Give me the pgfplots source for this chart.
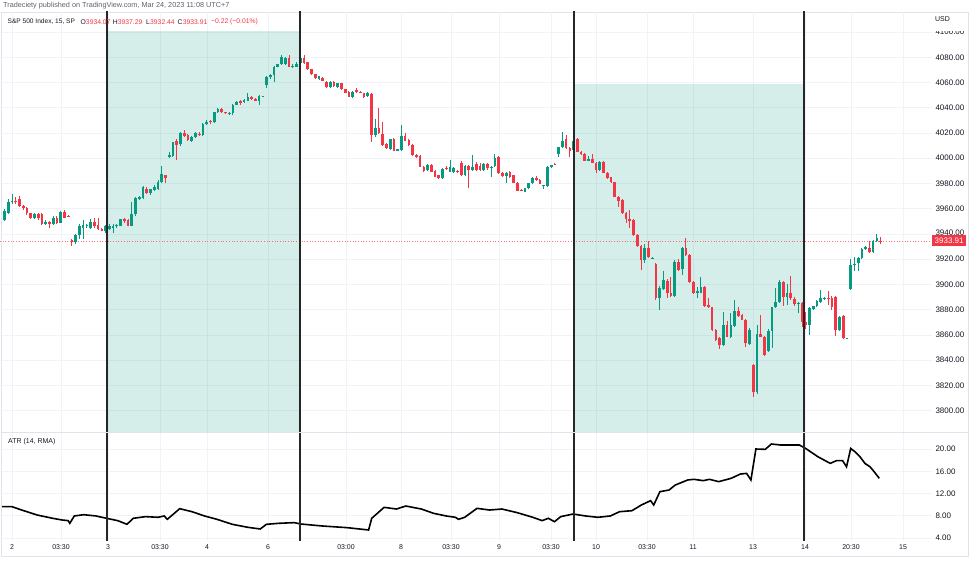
\documentclass[border=0pt]{standalone}
\usepackage{pgfplots}
\pgfplotsset{compat=1.18}
\usepackage{pgfplotstable}
\usepackage{fontspec}
\setmainfont{Liberation Sans}
\definecolor{upc}{HTML}{089981}
\definecolor{dnc}{HTML}{F23645}
\definecolor{gridc}{HTML}{F0F3FA}
\definecolor{framec}{HTML}{E0E3EB}
\definecolor{txt}{HTML}{131722}
\definecolor{hdr}{HTML}{5D606B}

\pgfplotstableread{
i o h l c
-2 3951 3960 3950 3958
-1 3957 3968 3956 3965
0 3965 3972 3964 3966.5
6 3953 3957 3952 3955.5
9 3948 3951 3947 3949.5
11 3948 3954 3947 3952.5
13 3949 3958 3948.5 3957.5
17 3933.5 3940 3932 3939
18 3939 3948 3936 3946
19 3945 3951 3936 3947
20 3946 3948 3945 3947.5
21 3944.5 3952 3944 3949.5
25 3942.5 3947 3941 3946
26 3944 3948 3943 3946.5
27 3945 3948 3941 3946
28 3946 3948 3945 3947.5
29 3946.5 3952 3946 3951.5
32 3946.5 3965 3946 3955.5
33 3955.5 3969 3954 3968.5
34 3968 3970 3967 3969
35 3968.5 3978 3968 3977
37 3972.5 3976 3971 3975.5
38 3975 3979 3974 3977.5
39 3976 3983 3975 3981.5
40 3981 3994 3980 3987.5
42 4001.2 4005 4000 4002.6
43 4001.8 4013 4001 4012.6
45 4011.3 4021 4010 4020.3
48 4014 4018 4013 4017
49 4016.6 4021 4016 4019.8
51 4018.5 4028 4018 4027
52 4027.2 4030 4026 4029
54 4028.5 4037 4028 4036.4
55 4036.4 4040 4036 4039.3
58 4035.3 4036.5 4034 4036
59 4035.6 4043 4034 4042.2
60 4042.2 4045.5 4042 4044.8
62 4044.4 4047 4044 4046.2
63 4045.6 4051.5 4045 4048.3
66 4045.6 4050 4042 4049.3
67 4049 4049.5 4048.5 4049.3
68 4058 4065 4055.4 4064.2
69 4064 4067 4063 4066
70 4066 4073 4060.7 4072.6
71 4072.6 4075 4072 4074.5
72 4074.5 4081.5 4074 4080.5
73 4075 4080.5 4074 4079.5
75 4072.6 4074.5 4071.5 4073.4
76 4072.5 4076 4072 4075
77 4075.2 4080 4074.5 4079.2
82 4062.8 4065.5 4062 4065
85 4056.2 4061 4055.5 4060.2
87 4056.7 4060 4056 4059.4
91 4048.8 4053 4048 4052.7
95 4049.3 4052.5 4048.5 4051.5
97 4018.4 4030.9 4017 4023.8
101 4007.1 4015.5 4006.5 4015
103 4006 4007.5 4005.5 4007
104 4006.5 4026.4 4006 4017.9
111 3990.7 3995.5 3990 3994.7
115 3984.1 3992 3983.5 3991.2
117 3989.4 3998.6 3989 3993.3
118 3989.4 3993 3988.5 3992
121 3986.7 3994.5 3986 3993.9
123 3990.7 4002.6 3990 3993.3
126 3990.7 3996 3990 3995.5
128 3992 3993.5 3985.4 3993.3
129 3993.9 4003.1 3993 4000
132 3986 3989 3980 3988.5
137 3973.5 3976.5 3973 3976.2
138 3976.2 3980.5 3975.5 3980.2
139 3980.2 3985 3979.5 3984.6
142 3978 3979 3976 3978.5
143 3978.3 3994 3977.5 3993.3
144 3993.1 3995 3992.5 3994.7
146 4003.1 4009 4000.8 4008.7
147 4008.7 4020.6 4008 4013.9
150 4006.5 4015.5 4006 4014
154 3998.1 4001.8 3997.5 3999.2
157 3990.7 3998 3990 3997.3
169 3919.4 3932 3917 3928.7
171 3920.9 3921.5 3920.5 3921.3
173 3889 3899 3879.8 3897
174 3896.2 3910.9 3895.5 3903.6
177 3890.9 3919 3890 3918
179 3912 3929.5 3907.5 3928.7
183 3893.5 3898 3889 3894.8
184 3893.5 3906.2 3893 3898.2
190 3852 3878.4 3851.5 3867.9
192 3858.2 3877.6 3857.5 3867.9
193 3867.1 3887.7 3866.5 3879
197 3852.8 3865.5 3852 3863.9
199 3814.6 3867.9 3813.5 3860.7
202 3847.5 3865 3846.5 3863.4
203 3863.4 3882.5 3850 3881.9
204 3881.9 3897 3881 3886.3
205 3886.3 3903.6 3885.5 3902.2
207 3890.3 3900 3884 3893.5
210 3884.3 3886 3877.2 3885
213 3867.9 3882 3860 3881.1
214 3880.6 3883 3880 3882.9
215 3882.9 3888 3882 3886.9
216 3885.9 3895.6 3885.5 3889
217 3888.5 3890 3887.5 3889.3
221 3863.9 3875 3863 3874.5
223 3857 3857.8 3856.8 3857.5
224 3896.2 3920 3895.5 3915.4
225 3915.6 3921.5 3911 3916.5
226 3916.8 3922 3910.5 3921.2
227 3921.2 3928.5 3920.5 3927.9
228 3927.9 3930.5 3927 3929.3
230 3925.5 3935 3925 3934.4
231 3934.4 3940 3933.5 3936.6
}\uptab

\pgfplotstableread{
i o h l c
1 3966.4 3969 3964 3965
2 3967.7 3970 3961 3962.4
3 3962.5 3963 3959 3960.5
4 3960.5 3961 3955 3956.5
5 3956.5 3957 3952 3953
7 3955.5 3957 3951 3953
8 3955.5 3957 3947 3948
10 3949.5 3950 3944.5 3948
12 3953 3954 3948 3949
14 3957.5 3959 3952.5 3953
15 3954.5 3955 3953.5 3954
16 3935.5 3936 3930.5 3934
22 3949.5 3952.4 3945 3946
23 3947 3953 3943 3944
24 3944 3945 3942 3942.5
30 3951.5 3952.4 3949 3950
31 3951 3952 3946 3946.5
36 3976 3977 3971.5 3972.5
41 3986.5 3987 3980 3984
44 4014 4015 3999 4010.5
46 4020.3 4022 4017 4018
47 4018.4 4019 4014 4014.5
50 4019.5 4020.5 4018 4019
53 4029.5 4030.5 4027 4028.5
56 4039 4040 4036 4036.7
57 4036.7 4037 4035 4035.5
61 4045 4046 4042.5 4044
64 4048.3 4049 4046 4046.8
65 4047.2 4048 4045 4045.4
74 4079.2 4081.8 4072 4072.6
78 4079.2 4081.8 4075 4075.2
79 4076 4076.5 4070 4070.5
80 4070.5 4071 4066 4066.5
81 4066.5 4067 4063 4063.4
83 4063.8 4064.5 4061 4061.2
84 4060.2 4061 4056 4056.2
86 4060.2 4061 4056.5 4057
88 4059.4 4060 4054.3 4054.6
89 4054.6 4055 4051.5 4052
90 4052.7 4053.5 4048.5 4048.8
92 4054 4055.4 4051.5 4052.3
93 4052.5 4053 4051.5 4052
94 4051.5 4052 4048 4048.8
96 4050.7 4051.5 4013.1 4018.4
98 4023.8 4039.6 4019.5 4020.3
99 4019.2 4029 4010 4010.5
100 4011.3 4012 4007.5 4007.9
102 4015 4016 4005.5 4006
105 4017.9 4019.8 4013.5 4013.9
106 4014.5 4015 4010 4010.5
107 4010.5 4011 4002 4002.6
108 4002.6 4003 4000.5 4001.2
109 4001.8 4002.5 3993 3993.3
110 3993.3 3994 3989.5 3990.2
112 3994.7 3995.5 3989 3989.4
113 3989.9 3990.5 3985 3985.4
114 3986.7 3987 3983.5 3984.1
116 3992.6 3994 3990.5 3991.3
119 3990 3990.5 3988.5 3989.4
120 3996 3998 3986 3986.7
122 3993.9 3994.5 3976.2 3990.7
124 3995.5 3997 3990 3990.7
125 3994 3996 3990 3991
127 3995.5 3996 3991 3992
130 4000.8 4001.5 3987.5 3988.1
131 3988.1 3989 3985.5 3986
133 3989.4 3990 3984.5 3984.9
134 3986.7 3987 3980 3980.2
135 3980.2 3981 3974 3974.3
136 3974.8 3975.5 3974 3974.3
140 3984.6 3986 3982 3982.8
141 3982.8 3983.5 3979.5 3979.6
145 3995.5 3996 3994.5 3995
148 4015 4018.4 4007.5 4007.9
149 4007.9 4009 4000.8 4006
151 4015 4016 4005 4005.2
152 4005.2 4006 4002.5 4003
153 4003.1 4004 3998 3998.1
155 3999.2 4003.1 3996 3996.6
156 3996.6 3997 3988.1 3990.7
158 3997.3 3998 3988 3988.1
159 3988.1 3989 3983.5 3984.1
160 3985 3985.5 3980.5 3981
161 3981 3981.5 3969 3969.6
162 3969.6 3970 3961.6 3966.1
163 3966.9 3967.5 3956 3956.4
164 3956.9 3957.5 3949 3951.9
165 3951.5 3959 3944.5 3950
166 3951.1 3952 3938.5 3939.2
167 3939.2 3940 3930 3930.5
168 3930.5 3931 3911.5 3919.4
170 3928.7 3934.4 3921 3921.5
172 3916.2 3917 3887.7 3889
175 3903 3904 3889.5 3893.5
176 3893.5 3906.2 3890 3890.9
178 3918 3920 3911 3911.5
180 3928.7 3936.6 3922.5 3923.4
181 3923.4 3924 3901.5 3902.2
182 3902.2 3903 3892.5 3893
185 3898.2 3899 3882.5 3882.9
186 3883.5 3889 3881.5 3882
187 3881.9 3882.5 3863.5 3863.9
188 3863.9 3864.5 3855.5 3856
189 3857.4 3858 3848.6 3852
191 3867.9 3871 3858 3858.6
194 3879 3882 3874.5 3875
195 3875.8 3876.5 3871.5 3871.8
196 3871.8 3872.5 3850.5 3853.4
198 3836.2 3837 3811.1 3815.1
200 3860.7 3875.8 3858 3858.6
201 3858.2 3859 3843.5 3844.2
206 3902.2 3903 3883 3890.3
208 3893.5 3906.7 3888 3889
209 3888.5 3890 3883 3884.3
211 3885 3886 3866.6 3870.5
212 3870.5 3878.4 3865 3867.6
218 3889.5 3895 3884 3888.8
219 3889.5 3890.5 3879.5 3881.9
220 3889.8 3890.5 3859.5 3863.9
222 3875 3876 3856.5 3857.4
229 3929.1 3934.4 3925 3925.4
232 3934.07 3937.29 3932.44 3933.91
}\dntab

\pgfplotstableread{
x a
2 9.63
12 9.63
21.7 9.03
37.2 8.13
52.7 7.54
62 7.24
68.2 7.12
69.8 6.64
74.3 7.96
83.6 8.19
96 7.96
106.6 7.54
117.7 7.12
127 6.46
133.2 7.54
145.6 7.84
158 7.72
164.2 7.96
167.3 7.36
179.7 9.27
192 8.73
204.5 7.96
216.9 7.36
232.3 6.46
247.8 5.92
260.2 5.62
266.4 6.46
278.8 6.64
294.3 6.76
300.5 6.52
322.2 6.16
347 5.86
362.5 5.56
368.6 5.44
371.7 7.54
384.1 9.51
396.5 9.21
405.8 9.75
421.3 9.21
433.7 8.43
446.1 7.96
455.4 7.72
458.5 7.36
464.7 7.72
477 9.33
489.5 9.03
501.9 9.21
517.3 8.55
532.8 7.72
542.1 7.12
548.3 7.54
554.5 6.93
560.7 7.84
573.1 8.31
585.5 7.96
597.9 7.72
610.3 7.96
619.6 8.73
632 8.91
641.3 9.93
650.6 10.71
653.7 9.93
659.9 12.33
669.1 12.63
675.3 13.53
687.7 14.43
693.9 14.55
703.2 14.31
709.4 14.55
718.7 14.13
731.1 14.73
740.4 15.5
746.6 15.62
750.9 14.43
755.9 20.0
765.2 19.94
771.4 20.9
780.7 20.72
799.3 20.72
805.5 20.12
817.8 18.62
830.2 17.42
836.4 17.9
842.6 17.9
846.5 16.8
850.7 20.1
855 19.5
860 18.6
865 17.4
870 16.8
873.3 16.1
879.3 14.73
}\atrtab

\pgfplotsset{
  chartbase/.style={
    scale only axis, width=932bp, xmin=0, xmax=932,
    anchor=south west,
    axis line style={draw=none},
    tick style={draw=none},
    major tick length=0pt,
    grid=major, major grid style={draw=gridc, line width=0.8bp},
    xtick={12,61,108,160,207,268,346,401,451,499,551,596,647,693,753,805,851,903},
    yticklabel pos=right,
    y tick label style={anchor=west, font=\fontsize{8}{9}\selectfont, text=txt},
    x tick label style={font=\fontsize{7}{8}\selectfont, text=txt},
  },
  wick/.style={draw=none, no markers, forget plot,
    error bars/.cd, y dir=plus, y explicit, error mark=none,
    error bar style={line width=1bp, draw=#1, solid}},
  body/.style={draw=none, no markers, forget plot,
    error bars/.cd, y dir=plus, y explicit, error mark=none,
    error bar style={line width=2.7bp, draw=#1, solid}},
}

\begin{document}
\begin{tikzpicture}[x=1bp,y=1bp]
\draw[framec, line width=0.8bp] (1.5,7) rectangle (968,551);

\begin{axis}[chartbase, at={(0bp,131bp)}, height=420bp,
  ymin=3783.11, ymax=4115.89,
  xticklabels={},
  ytick={3800,3820,3840,3860,3880,3900,3920,3940,3960,3980,4000,4020,4040,4060,4080,4100},
  yticklabels={3800.00,3820.00,3840.00,3860.00,3880.00,3900.00,3920.00,\raisebox{3.5bp}{3940.00},3960.00,3980.00,4000.00,4020.00,4040.00,4060.00,4080.00,4100.00},
]
\addplot[draw=none, fill=upc, fill opacity=0.17, forget plot] coordinates {(107,4100.5) (300,4100.5)} \closedcycle;
\addplot[draw=none, fill=upc, fill opacity=0.17, forget plot] coordinates {(574,4058.8) (804,4058.8)} \closedcycle;
\addplot[dnc!70, dotted, line width=0.7bp, forget plot] coordinates {(0,3933.91) (932,3933.91)};
\addplot[wick=upc] table[x expr=12+3.744*\thisrow{i}, y=l, y error plus expr=\thisrow{h}-\thisrow{l}] {\uptab};
\addplot[body=upc] table[x expr=12+3.744*\thisrow{i}, y=o, y error plus expr=\thisrow{c}-\thisrow{o}] {\uptab};
\addplot[wick=dnc] table[x expr=12+3.744*\thisrow{i}, y=l, y error plus expr=\thisrow{h}-\thisrow{l}] {\dntab};
\addplot[body=dnc] table[x expr=12+3.744*\thisrow{i}, y=c, y error plus expr=\thisrow{o}-\thisrow{c}] {\dntab};
\addplot[black!85, line width=1.2bp, forget plot] coordinates {(107,3700) (107,4200)};
\addplot[black!85, line width=1.2bp, forget plot] coordinates {(300,3700) (300,4200)};
\addplot[black!85, line width=1.2bp, forget plot] coordinates {(574,3700) (574,4200)};
\addplot[black!85, line width=1.2bp, forget plot] coordinates {(804,3700) (804,4200)};
\end{axis}

\begin{axis}[chartbase, at={(0bp,22bp)}, height=109bp,
  ymin=3.46, ymax=23.06,
  xticklabels={2,03:30,3,03:30,4,6,03:00,8,03:30,9,03:30,10,03:30,11,13,14,20:30,15},
  ytick={4,8,12,16,20}, yticklabels={4.00,8.00,12.00,16.00,20.00},
]
\addplot[black, line width=1.6bp, forget plot] table[x=x, y=a] {\atrtab};
\addplot[black!85, line width=1.2bp, forget plot] coordinates {(107,0) (107,30)};
\addplot[black!85, line width=1.2bp, forget plot] coordinates {(300,0) (300,30)};
\addplot[black!85, line width=1.2bp, forget plot] coordinates {(574,0) (574,30)};
\addplot[black!85, line width=1.2bp, forget plot] coordinates {(804,0) (804,30)};
\end{axis}

\draw[framec, line width=0.8bp] (1.5,131) -- (968,131);

% header texts
\node[anchor=west, inner sep=0, font=\fontsize{7.3}{8}\selectfont, text=hdr] at (3,557.3) {Tradeciety published on TradingView.com, Mar 24, 2023 11:08 UTC+7};
\node[anchor=west, inner sep=0, font=\fontsize{6.6}{8}\selectfont, text=txt] at (7.5,541.3) {S\&P 500 Index, 15, SP};
\node[anchor=west, inner sep=0, font=\fontsize{6.8}{8}\selectfont, text=txt] at (80.5,541.3) {O};
\node[anchor=west, inner sep=0, font=\fontsize{6.8}{8}\selectfont, text=dnc] at (85.8,541.3) {3934.07};
\node[anchor=west, inner sep=0, font=\fontsize{6.8}{8}\selectfont, text=txt] at (112.6,541.3) {H};
\node[anchor=west, inner sep=0, font=\fontsize{6.8}{8}\selectfont, text=dnc] at (117.6,541.3) {3937.29};
\node[anchor=west, inner sep=0, font=\fontsize{6.8}{8}\selectfont, text=txt] at (146,541.3) {L};
\node[anchor=west, inner sep=0, font=\fontsize{6.8}{8}\selectfont, text=dnc] at (150,541.3) {3932.44};
\node[anchor=west, inner sep=0, font=\fontsize{6.8}{8}\selectfont, text=txt] at (177.5,541.3) {C};
\node[anchor=west, inner sep=0, font=\fontsize{6.8}{8}\selectfont, text=dnc] at (182.6,541.3) {3933.91};
\node[anchor=west, inner sep=0, font=\fontsize{6.8}{8}\selectfont, text=dnc] at (211,541.3) {−0.22 (−0.01\%)};

% USD label over the 4100 label
\fill[white] (933,532) rectangle (967,550.2);
\node[anchor=west, inner sep=0, font=\fontsize{7}{8}\selectfont, text=txt] at (935,544) {USD};

% last price label
\node[anchor=west, fill=dnc, text=white, inner xsep=2.5bp, inner ysep=0pt, minimum height=11.5bp, font=\fontsize{8}{9}\selectfont] at (932,322.7) {3933.91};

\node[anchor=west, inner sep=0, font=\fontsize{7}{8}\selectfont, text=txt] at (8,121) {ATR (14, RMA)};

\pgfresetboundingbox
\path (0,0) rectangle (971,563);
\end{tikzpicture}
\end{document}
